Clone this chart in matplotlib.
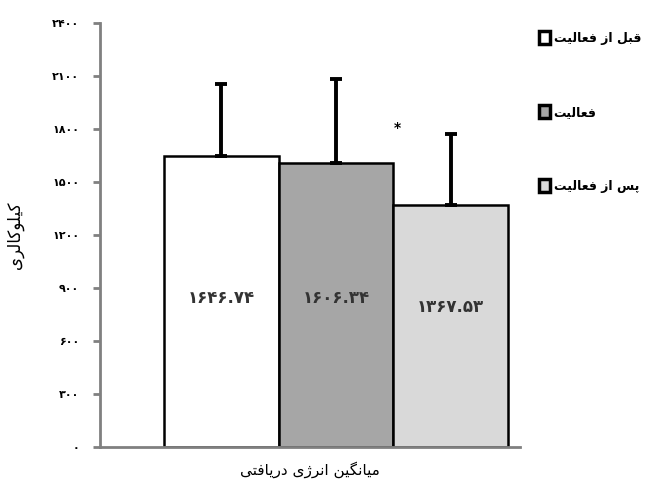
import matplotlib
matplotlib.use("Agg")
import matplotlib.pyplot as plt
from matplotlib.patches import Patch

# data
groups = ["قبل از فعالیت", "فعالیت", "پس از فعالیت"]
means = [1646.74, 1606.34, 1367.53]
errors = [407, 477, 404]
colors = ["#ffffff", "#a6a6a6", "#d9d9d9"]
value_labels = ["۱۶۴۶.۷۴", "۱۶۰۶.۳۴", "۱۳۶۷.۵۳"]
label_y = [843, 843, 792]
yticks = [0, 300, 600, 900, 1200, 1500, 1800, 2100, 2400]
ytick_labels = ["۰", "۳۰۰", "۶۰۰", "۹۰۰", "۱۲۰۰", "۱۵۰۰", "۱۸۰۰", "۲۱۰۰", "۲۴۰۰"]
ylabel = "کیلوکالری"
xlabel = "میانگین انرژی دریافتی"

# minimal arabic/persian shaping: (isolated, final, initial, medial)
FORMS = {
    "ا": (0xFE8D, 0xFE8E, None, None),
    "ب": (0xFE8F, 0xFE90, 0xFE91, 0xFE92),
    "ت": (0xFE95, 0xFE96, 0xFE97, 0xFE98),
    "پ": (0xFB56, 0xFB57, 0xFB58, 0xFB59),
    "د": (0xFEA9, 0xFEAA, None, None),
    "ر": (0xFEAD, 0xFEAE, None, None),
    "ز": (0xFEAF, 0xFEB0, None, None),
    "ژ": (0xFB8A, 0xFB8B, None, None),
    "س": (0xFEB1, 0xFEB2, 0xFEB3, 0xFEB4),
    "ع": (0xFEC9, 0xFECA, 0xFECB, 0xFECC),
    "ف": (0xFED1, 0xFED2, 0xFED3, 0xFED4),
    "ق": (0xFED5, 0xFED6, 0xFED7, 0xFED8),
    "ک": (0xFB8E, 0xFB8F, 0xFB90, 0xFB91),
    "گ": (0xFB92, 0xFB93, 0xFB94, 0xFB95),
    "ل": (0xFEDD, 0xFEDE, 0xFEDF, 0xFEE0),
    "م": (0xFEE1, 0xFEE2, 0xFEE3, 0xFEE4),
    "ن": (0xFEE5, 0xFEE6, 0xFEE7, 0xFEE8),
    "و": (0xFEED, 0xFEEE, None, None),
    "ی": (0xFBFC, 0xFBFD, 0xFBFE, 0xFBFF),
}


def shape(text):
    out = []
    for i, ch in enumerate(text):
        if ch not in FORMS:
            out.append(ch)
            continue
        prev = text[i - 1] if i > 0 else ""
        nxt = text[i + 1] if i + 1 < len(text) else ""
        join_prev = prev in FORMS and FORMS[prev][2] is not None
        join_next = FORMS[ch][2] is not None and nxt in FORMS
        f = FORMS[ch]
        if join_prev and join_next:
            code = f[3]
        elif join_prev:
            code = f[1]
        elif join_next:
            code = f[2]
        else:
            code = f[0]
        out.append(chr(code))
    return "".join(out)[::-1]


plt.rcParams["font.family"] = ["DejaVu Sans"]

fig = plt.figure(figsize=(6.56, 4.9), dpi=100)
ax = fig.add_axes([100 / 656, 1 - 447 / 490, 420 / 656, 424 / 490])

x = range(len(means))
ax.bar(x, means, width=1.0, color=colors, edgecolor="black", linewidth=1.8, zorder=2)
ax.errorbar(x, means, yerr=[[0] * 3, errors], fmt="none", ecolor="black",
            elinewidth=2.8, capsize=4.5, capthick=2.8, zorder=3)

for xi, lab, ly in zip(x, value_labels, label_y):
    ax.text(xi, ly, lab, ha="center", va="center", fontsize=12, fontweight="bold", color="#333333")

ax.text(1.535, 1805, "*", ha="center", va="center", fontsize=10, fontweight="bold")

ax.set_xlim(-1.057, 2.604)
ax.set_ylim(0, 2400)
ax.set_xticks([])
ax.set_yticks(yticks)
ax.set_yticklabels(ytick_labels, fontsize=8, fontweight="bold")
ax.tick_params(axis="y", direction="out", length=5, width=2, color="#808080", pad=10)
for side in ["top", "right"]:
    ax.spines[side].set_visible(False)
for side in ["left", "bottom"]:
    ax.spines[side].set_color("#808080")
    ax.spines[side].set_linewidth(2)

ax.set_ylabel(shape(ylabel), fontsize=12, labelpad=20)
ax.set_xlabel(shape(xlabel), fontsize=11, labelpad=10)

handles = [Patch(facecolor=c, edgecolor="black", linewidth=2.5) for c in colors]
fig.legend(handles, [shape(g) for g in groups], loc="upper left",
           bbox_to_anchor=(528 / 656, 1 - 20 / 490), frameon=False,
           handlelength=0.85, handleheight=1.15, handletextpad=0.3,
           labelspacing=4.85, prop={"size": 9, "weight": "bold"})

fig.savefig("out.png", dpi=100)
